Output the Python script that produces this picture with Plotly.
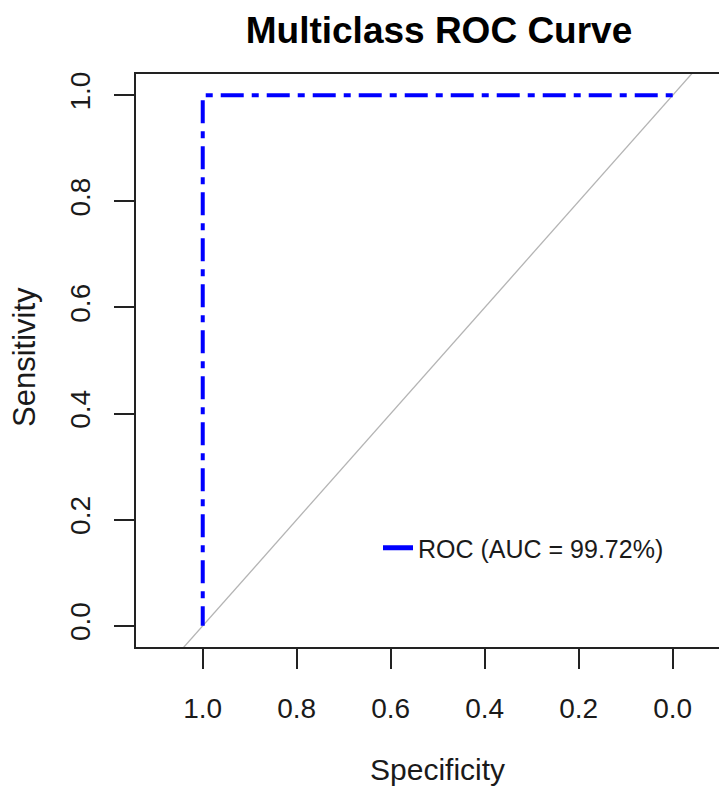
import plotly.graph_objects as go

# ROC curve data (specificity on reversed x axis, sensitivity on y)
roc_specificity = [0.0, 1.0, 1.0]
roc_sensitivity = [1.0, 1.0, 0.0]

# reference diagonal (chance line)
diag_specificity = [1.3, -0.3]
diag_sensitivity = [-0.3, 1.3]

tick_vals = [0.0, 0.2, 0.4, 0.6, 0.8, 1.0]
tick_text = ["0.0", "0.2", "0.4", "0.6", "0.8", "1.0"]

legend_label = "ROC (AUC = 99.72%)"
title_text = "Multiclass ROC Curve"

FONT = "Liberation Sans, Arial, sans-serif"
OFF = 8  # page body margin in the browser
W, H = 727, 792 - OFF
L, R, T, B = 136 - OFF, 0, 74 - OFF, 145
PW = W - L - R
PH = H - T - B

fig = go.Figure()
fig.add_trace(go.Scatter(
    x=diag_specificity, y=diag_sensitivity, mode="lines",
    line=dict(color="#b4b4b4", width=1.3), showlegend=False, hoverinfo="skip"))
fig.add_trace(go.Scatter(
    x=roc_specificity, y=roc_sensitivity, mode="lines",
    line=dict(color="#0000ff", width=4, dash="7px,8px,23px,8px"),
    showlegend=False, name=legend_label))
fig.add_trace(go.Scatter(
    x=[None], y=[None], mode="lines",
    line=dict(color="#0000ff", width=5), name=legend_label, showlegend=True))

# helpers converting reference-screen pixels into paper coordinates
def px_x(px):
    return (px - OFF - L) / PW

def px_y(py):
    return (H - B - (py - OFF)) / PH

fig.update_layout(
    width=W, height=H,
    margin=dict(l=L, r=R, t=T, b=B, pad=0),
    plot_bgcolor="white", paper_bgcolor="white",
    font=dict(family=FONT, color="#1a1a1a"),
    title=dict(text="<b>" + title_text + "</b>", font=dict(size=37, color="black", family=FONT),
               x=px_x(439), xref="paper", xanchor="center",
               y=1 - (30 - OFF) / H, yref="container", yanchor="middle"),
    xaxis=dict(range=[1.142, -0.1325], tickvals=tick_vals, ticktext=tick_text,
               ticks="outside", ticklen=20, tickwidth=2, tickcolor="#222",
               showline=True, linecolor="#222", linewidth=2, mirror=True,
               showgrid=False, zeroline=False, tickfont=dict(size=28, family=FONT, color="#1a1a1a"),
               ticklabelstandoff=15),
    yaxis=dict(range=[-0.04, 1.04], tickvals=tick_vals, ticktext=tick_text,
               ticks="outside", ticklen=20, tickwidth=2, tickcolor="#222",
               showline=True, linecolor="#222", linewidth=2, mirror=False,
               showgrid=False, zeroline=False, tickangle=-90,
               tickfont=dict(size=28, family=FONT, color="#1a1a1a"),
               ticklabelstandoff=13),
    legend=dict(x=px_x(378), y=px_y(548), xanchor="left", yanchor="middle",
                bgcolor="rgba(0,0,0,0)", font=dict(size=25, family=FONT, color="#1a1a1a")),
    showlegend=True,
)

fig.add_annotation(text="Specificity", xref="paper", yref="paper",
                   x=px_x(437), y=px_y(769), xanchor="center", yanchor="middle",
                   showarrow=False, font=dict(size=30, family=FONT, color="#1a1a1a"))
fig.add_annotation(text="Sensitivity", xref="paper", yref="paper",
                   x=px_x(25), y=px_y(357), xanchor="center", yanchor="middle",
                   textangle=-90, showarrow=False, font=dict(size=31, family=FONT, color="#1a1a1a"))

fig.write_html("out.html")
